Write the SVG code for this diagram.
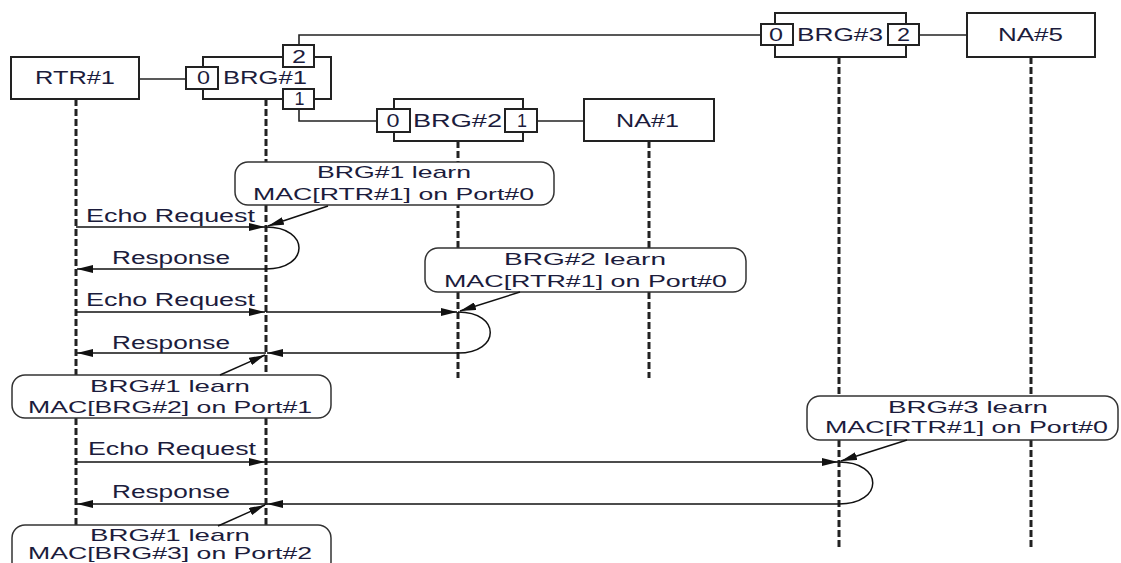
<svg xmlns="http://www.w3.org/2000/svg" width="1121" height="563" viewBox="0 0 1121 563">
<defs>
<style>
.box{fill:#fff;stroke:#222;stroke-width:2}
.port{fill:#fff;stroke:#222;stroke-width:2}
.link{fill:none;stroke:#222;stroke-width:1.6}
.life{fill:none;stroke:#222;stroke-width:3;stroke-dasharray:7 3}
.note{fill:#fff;stroke:#333;stroke-width:1.5}
.msg{fill:none;stroke:#111;stroke-width:1.5}
.t{font-family:"Liberation Sans",Arial,sans-serif;font-size:18px;fill:#1c1c3c}
.n{font-family:"Liberation Sans",Arial,sans-serif;font-size:17px;fill:#1c1c3c}
</style>
<marker id="ah" viewBox="0 0 16 8" refX="16" refY="4" markerWidth="16" markerHeight="8" markerUnits="userSpaceOnUse" orient="auto">
<path d="M0,0 L16,4 L0,8 Z" fill="#111"/>
</marker>
</defs>
<rect width="1121" height="563" fill="#fff"/>

<g id="links">
<line class="link" x1="139" y1="79" x2="186" y2="79"/>
<polyline class="link" points="299,45 299,35 761,35"/>
<polyline class="link" points="299,109 299,121 377,121"/>
<line class="link" x1="537" y1="121" x2="584" y2="121"/>
<line class="link" x1="919" y1="35" x2="967" y2="35"/>
</g>

<g id="lifelines">
<line class="life" x1="76" y1="99" x2="76" y2="375"/>
<line class="life" x1="76" y1="418" x2="76" y2="525"/>
<line class="life" x1="266" y1="99" x2="266" y2="162"/>
<line class="life" x1="266" y1="205" x2="266" y2="375"/>
<line class="life" x1="266" y1="418" x2="266" y2="525"/>
<line class="life" x1="458" y1="141" x2="458" y2="248"/>
<line class="life" x1="458" y1="292" x2="458" y2="378"/>
<line class="life" x1="649" y1="141" x2="649" y2="248"/>
<line class="life" x1="649" y1="292" x2="649" y2="378"/>
<line class="life" x1="839" y1="57" x2="839" y2="396"/>
<line class="life" x1="839" y1="440" x2="839" y2="550"/>
<line class="life" x1="1031" y1="57" x2="1031" y2="396"/>
<line class="life" x1="1031" y1="440" x2="1031" y2="550"/>
</g>

<g id="RTR1">
<rect class="box" x="11" y="57" width="128" height="42"/>
<text class="t" x="75" y="84" text-anchor="middle" textLength="80" lengthAdjust="spacingAndGlyphs">RTR#1</text>
</g>

<g id="BRG1">
<rect class="box" x="203" y="57" width="128" height="42"/>
<rect class="port" x="186" y="67" width="32" height="22"/>
<rect class="port" x="283" y="45" width="31" height="22"/>
<rect class="port" x="283" y="89" width="31" height="20"/>
<text class="t" x="203.5" y="84" text-anchor="middle" textLength="13" lengthAdjust="spacingAndGlyphs">0</text>
<text class="t" x="265" y="84" text-anchor="middle" textLength="84" lengthAdjust="spacingAndGlyphs">BRG#1</text>
<text class="t" x="299" y="63" text-anchor="middle" textLength="14" lengthAdjust="spacingAndGlyphs">2</text>
<text class="t" x="299.5" y="105" text-anchor="middle" textLength="10" lengthAdjust="spacingAndGlyphs">1</text>
</g>

<g id="BRG2">
<rect class="box" x="394" y="99" width="129" height="42"/>
<rect class="port" x="377" y="109" width="33" height="23"/>
<rect class="port" x="505" y="109" width="32" height="23"/>
<text class="t" x="393" y="127" text-anchor="middle" textLength="13" lengthAdjust="spacingAndGlyphs">0</text>
<text class="t" x="457.5" y="127" text-anchor="middle" textLength="89" lengthAdjust="spacingAndGlyphs">BRG#2</text>
<text class="t" x="522" y="127" text-anchor="middle" textLength="10" lengthAdjust="spacingAndGlyphs">1</text>
</g>

<g id="NA1">
<rect class="box" x="584" y="99" width="130" height="42"/>
<text class="t" x="647.5" y="127" text-anchor="middle" textLength="63" lengthAdjust="spacingAndGlyphs">NA#1</text>
</g>

<g id="BRG3">
<rect class="box" x="775" y="13" width="131" height="44"/>
<rect class="port" x="761" y="24" width="32" height="21"/>
<rect class="port" x="888" y="24" width="31" height="21"/>
<text class="t" x="776" y="41" text-anchor="middle" textLength="14" lengthAdjust="spacingAndGlyphs">0</text>
<text class="t" x="840" y="41" text-anchor="middle" textLength="86" lengthAdjust="spacingAndGlyphs">BRG#3</text>
<text class="t" x="903.5" y="41" text-anchor="middle" textLength="13" lengthAdjust="spacingAndGlyphs">2</text>
</g>

<g id="NA5">
<rect class="box" x="967" y="13" width="128" height="44"/>
<text class="t" x="1030.5" y="41" text-anchor="middle" textLength="65" lengthAdjust="spacingAndGlyphs">NA#5</text>
</g>

<g id="note1">
<rect class="note" x="235" y="162" width="319" height="43" rx="13"/>
<text class="n" x="394" y="178" text-anchor="middle" textLength="154" lengthAdjust="spacingAndGlyphs">BRG#1 learn</text>
<text class="n" x="393.5" y="200" text-anchor="middle" textLength="281" lengthAdjust="spacingAndGlyphs">MAC[RTR#1] on Port#0</text>
</g>

<g id="note2">
<rect class="note" x="425" y="248" width="321" height="44" rx="13"/>
<text class="n" x="585" y="265" text-anchor="middle" textLength="162" lengthAdjust="spacingAndGlyphs">BRG#2  learn</text>
<text class="n" x="585.5" y="287" text-anchor="middle" textLength="283" lengthAdjust="spacingAndGlyphs">MAC[RTR#1] on Port#0</text>
</g>

<g id="note3">
<rect class="note" x="12" y="375" width="319" height="43" rx="13"/>
<text class="n" x="170" y="392" text-anchor="middle" textLength="160" lengthAdjust="spacingAndGlyphs">BRG#1  learn</text>
<text class="n" x="170" y="413" text-anchor="middle" textLength="284" lengthAdjust="spacingAndGlyphs">MAC[BRG#2] on Port#1</text>
</g>

<g id="note4">
<rect class="note" x="807" y="396" width="311" height="44" rx="13"/>
<text class="n" x="968" y="413" text-anchor="middle" textLength="160" lengthAdjust="spacingAndGlyphs">BRG#3  learn</text>
<text class="n" x="966.5" y="433" text-anchor="middle" textLength="283" lengthAdjust="spacingAndGlyphs">MAC[RTR#1] on Port#0</text>
</g>

<g id="note5">
<rect class="note" x="12" y="525" width="319" height="50" rx="13"/>
<text class="n" x="170" y="541" text-anchor="middle" textLength="160" lengthAdjust="spacingAndGlyphs">BRG#1  learn</text>
<text class="n" x="170" y="559" text-anchor="middle" textLength="284" lengthAdjust="spacingAndGlyphs">MAC[BRG#3] on Port#2</text>
</g>

<g id="messages">
<line class="msg" x1="76" y1="227" x2="265" y2="227" marker-end="url(#ah)"/>
<path class="msg" d="M266,227 C310,227 310,269 266,269"/>
<line class="msg" x1="266" y1="269" x2="77" y2="269" marker-end="url(#ah)"/>
<line class="msg" x1="328" y1="206" x2="268" y2="226" marker-end="url(#ah)"/>

<line class="msg" x1="76" y1="312" x2="265" y2="312" marker-end="url(#ah)"/>
<line class="msg" x1="266" y1="312" x2="457" y2="312" marker-end="url(#ah)"/>
<path class="msg" d="M458,312 C501,312 501,353 458,353"/>
<line class="msg" x1="458" y1="353" x2="267" y2="353" marker-end="url(#ah)"/>
<line class="msg" x1="266" y1="353" x2="77" y2="353" marker-end="url(#ah)"/>
<line class="msg" x1="520" y1="292" x2="460" y2="311" marker-end="url(#ah)"/>
<line class="msg" x1="220" y1="375" x2="265" y2="355" marker-end="url(#ah)"/>

<line class="msg" x1="76" y1="462" x2="265" y2="462" marker-end="url(#ah)"/>
<line class="msg" x1="266" y1="462" x2="838" y2="462" marker-end="url(#ah)"/>
<path class="msg" d="M839,462 C884,462 884,504 839,504"/>
<line class="msg" x1="839" y1="504" x2="267" y2="504" marker-end="url(#ah)"/>
<line class="msg" x1="266" y1="504" x2="77" y2="504" marker-end="url(#ah)"/>
<line class="msg" x1="907" y1="440" x2="841" y2="461" marker-end="url(#ah)"/>
<line class="msg" x1="218" y1="526" x2="265" y2="505" marker-end="url(#ah)"/>
</g>

<g id="labels">
<text class="t" x="86" y="222" textLength="169" lengthAdjust="spacingAndGlyphs">Echo Request</text>
<text class="t" x="112" y="264" textLength="118" lengthAdjust="spacingAndGlyphs">Response</text>
<text class="t" x="86" y="306" textLength="169" lengthAdjust="spacingAndGlyphs">Echo Request</text>
<text class="t" x="112" y="349" textLength="118" lengthAdjust="spacingAndGlyphs">Response</text>
<text class="t" x="88" y="455" textLength="168" lengthAdjust="spacingAndGlyphs">Echo Request</text>
<text class="t" x="112" y="498" textLength="118" lengthAdjust="spacingAndGlyphs">Response</text>
</g>
</svg>
